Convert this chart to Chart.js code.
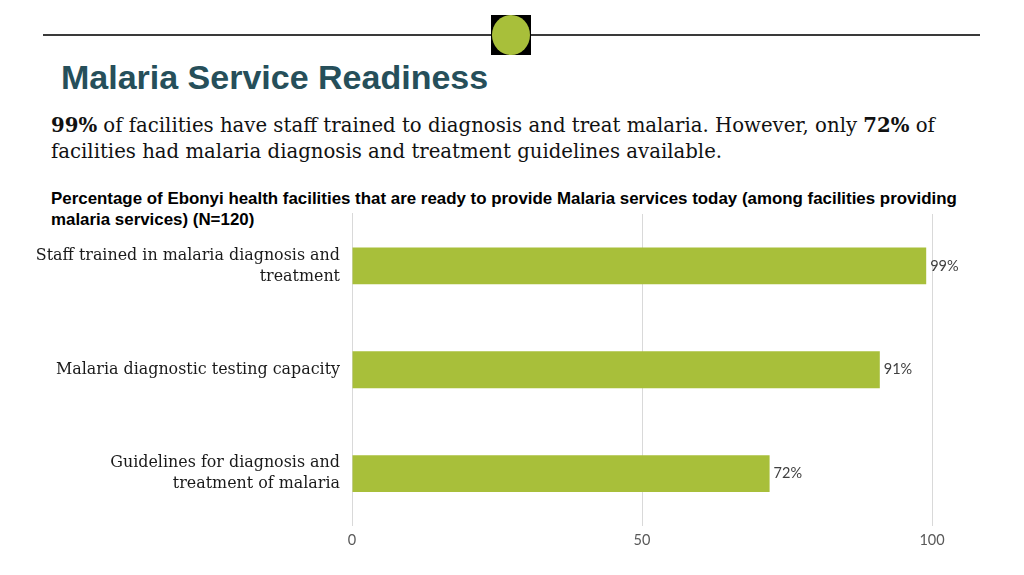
<!DOCTYPE html>
<html>
<head>
<meta charset="utf-8">
<script src="https://cdn.jsdelivr.net/npm/chart.js@4"></script>
<style>
  body { margin: 0; width: 1024px; height: 575px; background: #fff; position: relative; overflow: hidden; }
  .rule { position: absolute; left: 43px; top: 34px; width: 937px; height: 2px; background: #3a3a3a; }
  .badge { position: absolute; left: 491px; top: 15px; width: 40px; height: 40px; background: #000; }
  .badge div { width: 38px; height: 40px; margin-left: 1px; border-radius: 50%; background: #a8bf3a; }
  h1 { position: absolute; left: 61px; top: 58px; margin: 0; font: bold 34px "Liberation Sans", Arial, sans-serif; color: #264f5a; }
  .lead { position: absolute; left: 51px; top: 113px; width: 960px; margin: 0; font: 19.7px/26px "DejaVu Serif", serif; color: #111; }
  .sub { position: absolute; left: 51px; top: 188px; width: 935px; margin: 0; font: bold 16.9px/21px "Liberation Sans", Arial, sans-serif; color: #000; }
  #wrap { position: absolute; left: 0; top: 189px; width: 1024px; height: 366px; }
</style>
</head>
<body>
<div class="rule"></div>
<div class="badge"><div></div></div>
<h1>Malaria Service Readiness</h1>
<p class="lead"><b>99%</b> of facilities have staff trained to diagnosis and treat malaria. However, only <b>72%</b> of<br>facilities had malaria diagnosis and treatment guidelines available.</p>
<p class="sub">Percentage of Ebonyi health facilities that are ready to provide Malaria services today (among facilities providing malaria services) (N=120)</p>
<div id="wrap"><canvas id="chart"></canvas></div>
<script>
// categories and values
const categories = [
    ["Staff trained in malaria diagnosis and", "treatment"],
    "Malaria diagnostic testing capacity",
    ["Guidelines for diagnosis and", "treatment of malaria"],
];
const readiness = [99, 91, 72];
const xTicks = [0, 50, 100];

// small plugin to write the % labels at the end of each bar
const barLabels = {
    id: "barLabels",
    afterDatasetsDraw(chart) {
        const ctx = chart.ctx;
        ctx.save();
        ctx.font = "14.5px Lato, sans-serif";
        ctx.fillStyle = "#404040";
        ctx.textBaseline = "middle";
        chart.getDatasetMeta(0).data.forEach((bar, i) => {
            ctx.fillText(readiness[i] + "%", bar.x + 4, bar.y);
        });
        ctx.restore();
    },
};

const ctx = document.getElementById("chart").getContext("2d");
new Chart(ctx, {
    type: "bar",
    data: {
        labels: categories,
        datasets: [
            {
                data: readiness,
                backgroundColor: "#a8bf3a",
                categoryPercentage: 1,
                barPercentage: 0.355,
            },
        ],
    },
    options: {
        indexAxis: "y",
        responsive: true,
        maintainAspectRatio: false,
        animation: false,
        layout: { padding: { top: 0, right: 92, bottom: 0, left: 0 } },
        plugins: {
            legend: { display: false },
            tooltip: { enabled: false },
        },
        scales: {
            x: {
                min: 0,
                max: 100,
                afterBuildTicks: (scale) => {
                    scale.ticks = xTicks.map((v) => ({ value: v }));
                },
                grid: { color: "#d9d9d9", drawTicks: false },
                border: { display: false },
                ticks: { padding: 6, color: "#595959", font: { family: "Lato", size: 14.5 } },
            },
            y: {
                grid: { display: false },
                border: { color: "#d9d9d9" },
                afterFit: (scale) => { scale.width = 352; },
                ticks: {
                    padding: 4,
                    color: "#1a1a1a",
                    font: { family: "DejaVu Serif", size: 15.9, lineHeight: 1.32 },
                },
            },
        },
    },
    plugins: [barLabels],
});
</script>
</body>
</html>
